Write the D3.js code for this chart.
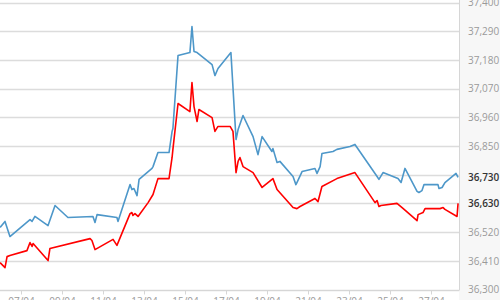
<!DOCTYPE html>
<html>
<head>
<meta charset="utf-8">
<script src="https://cdn.jsdelivr.net/npm/d3@7"></script>
<style>
  body { margin: 0; background: #fff; }
  text { font-family: "Open Sans", sans-serif; }
</style>
</head>
<body>
<div id="chart"></div>
<script>
var svgWidth = 500;
var svgHeight = 300;

// time is April day + fraction of day
var blueDays = [5.98, 6.22, 6.46, 7.44, 7.54, 7.68, 8.32, 8.66, 9.29, 10.51, 10.61, 10.71, 11.68, 11.73,
  12.32, 12.41, 12.51, 12.66, 12.76, 13.39, 13.44, 13.68, 14.22, 14.37, 14.41, 14.66, 15.24, 15.34,
  15.44, 15.59, 16.32, 16.46, 16.61, 17.24, 17.49, 17.59, 17.83, 18.32, 18.56, 18.76, 19.24, 19.29,
  19.49, 19.63, 20.27, 20.41, 20.46, 20.71, 21.34, 21.44, 21.59, 21.68, 22.22, 22.41, 23.05, 23.29,
  24.37, 24.46, 24.66, 25.39, 25.54, 25.73, 26.32, 26.41, 26.56, 26.66, 27.34, 27.39, 27.54, 27.68,
  28.22, 28.32];
var blueValues = [36538, 36561, 36503, 36568, 36561, 36580, 36545, 36622, 36576, 36580, 36557, 36587, 36576, 36561,
  36702, 36683, 36687, 36660, 36722, 36764, 36771, 36825, 36825, 36906, 36917, 37197, 37208, 37308,
  37212, 37208, 37162, 37120, 37147, 37208, 36875, 36913, 36967, 36886, 36817, 36886, 36829, 36840,
  36787, 36791, 36733, 36702, 36710, 36752, 36764, 36745, 36771, 36821, 36829, 36837, 36848, 36856,
  36733, 36722, 36748, 36725, 36710, 36764, 36676, 36672, 36679, 36702, 36702, 36687, 36691, 36710,
  36745, 36730];

var redDays = [5.98, 6.22, 6.32, 6.46, 7.29, 7.44, 7.54, 7.59, 8.32, 8.41, 10.37, 10.46, 10.61, 11.49,
  11.68, 12.32, 12.41, 12.46, 12.56, 12.71, 13.20, 13.44, 13.68, 14.22, 14.37, 14.41, 14.66, 15.24,
  15.34, 15.44, 15.59, 15.68, 16.32, 16.46, 16.61, 17.20, 17.34, 17.49, 17.59, 17.68, 17.83, 18.32,
  18.76, 19.29, 19.49, 20.27, 20.46, 20.61, 21.34, 21.49, 21.68, 22.41, 23.29, 24.27, 24.37, 24.46,
  24.56, 25.34, 25.59, 26.32, 26.37, 26.61, 26.71, 27.44, 27.59, 27.68, 28.27, 28.32];
var redValues = [36403, 36384, 36426, 36430, 36449, 36480, 36465, 36476, 36411, 36457, 36495, 36488, 36453, 36492,
  36469, 36591, 36595, 36584, 36591, 36580, 36633, 36664, 36725, 36725, 36806, 36837, 37013, 36982,
  37093, 37001, 36944, 36990, 36959, 36906, 36925, 36925, 36906, 36748, 36791, 36806, 36771, 36748,
  36691, 36725, 36683, 36614, 36610, 36618, 36649, 36637, 36695, 36725, 36748, 36633, 36641, 36618,
  36622, 36630, 36614, 36564, 36587, 36595, 36610, 36610, 36614, 36607, 36580, 36630];

var yTicks = [36300, 36410, 36520, 36630, 36740, 36850, 36960, 37070, 37180, 37290, 37400];
var xTickDays = [7, 9, 11, 13, 15, 17, 19, 21, 23, 25, 27];

var plotRight = 459;
var plotTop = 2.5;
var plotBottom = 289.5;

function dayToDate(d) {
  return new Date(2014, 3, 1, 0, 0, 0, 0).getTime() + (d - 1) * 86400000;
}

var svg = d3.select("#chart")
  .append("svg")
  .attr("width", svgWidth)
  .attr("height", svgHeight);

// gray panel for the value labels
svg.append("rect")
  .attr("x", plotRight)
  .attr("y", 0)
  .attr("width", svgWidth - plotRight)
  .attr("height", svgHeight)
  .attr("fill", "#f7f7f7");

var xScale = d3.scaleTime()
  .domain([dayToDate(7 - 21 / 20.5), dayToDate(7 + (plotRight - 21) / 20.5)])
  .range([0, plotRight]);

var yScale = d3.scaleLinear()
  .domain([36300, 37400])
  .range([plotBottom, plotTop]);

// gridlines
svg.append("g")
  .selectAll("line")
  .data(yTicks)
  .enter()
  .append("line")
  .attr("x1", 0)
  .attr("x2", plotRight)
  .attr("y1", d => Math.round(yScale(d)) + 0.5)
  .attr("y2", d => Math.round(yScale(d)) + 0.5)
  .attr("stroke", "#dcdcdc")
  .attr("stroke-width", 1.3);

// right border of plot
svg.append("line")
  .attr("x1", plotRight + 0.5)
  .attr("x2", plotRight + 0.5)
  .attr("y1", 0)
  .attr("y2", plotBottom + 1)
  .attr("stroke", "#d6d6d6");

// x axis
var xAxis = d3.axisBottom(xScale)
  .tickValues(xTickDays.map(d => new Date(dayToDate(d))))
  .tickFormat(d3.timeFormat("%d/%m"))
  .tickSize(4)
  .tickPadding(3);

var xAxisG = svg.append("g")
  .attr("transform", `translate(0, ${Math.round(plotBottom) + 0.5})`)
  .call(xAxis);
xAxisG.select(".domain").attr("stroke", "#d6d6d6").attr("d", `M0,0H${plotRight}`);
xAxisG.selectAll(".tick line").attr("stroke", "#d6d6d6");
xAxisG.selectAll(".tick text")
  .attr("fill", "#9a9a9a")
  .attr("font-size", 10)
  .attr("font-family", "Open Sans, sans-serif");

// y labels on the right
var yAxis = d3.axisRight(yScale)
  .tickValues(yTicks)
  .tickFormat(d3.format(","))
  .tickSize(0)
  .tickPadding(9);

var yAxisG = svg.append("g")
  .attr("transform", `translate(${plotRight}, 0)`)
  .call(yAxis);
yAxisG.select(".domain").remove();
yAxisG.selectAll(".tick text")
  .attr("fill", "#9a9a9a")
  .attr("font-size", 10)
  .attr("font-family", "Open Sans, sans-serif")
  .style("display", d => (d === 36740 || d === 36630) ? "none" : null);

var line = d3.line()
  .x(d => xScale(dayToDate(d[0])))
  .y(d => yScale(d[1]));

var blueData = blueDays.map((d, i) => [d, blueValues[i]]);
var redData = redDays.map((d, i) => [d, redValues[i]]);

svg.append("path")
  .datum(blueData)
  .attr("d", line)
  .attr("fill", "none")
  .attr("stroke", "#4d97c9")
  .attr("stroke-width", 1.6)
  .attr("stroke-linejoin", "round");

svg.append("path")
  .datum(redData)
  .attr("d", line)
  .attr("fill", "none")
  .attr("stroke", "#ff0000")
  .attr("stroke-width", 1.6)
  .attr("stroke-linejoin", "round");

// last value labels
var lastLabels = [blueValues[blueValues.length - 1], redValues[redValues.length - 1]];
svg.append("g")
  .selectAll("text")
  .data(lastLabels)
  .enter()
  .append("text")
  .attr("x", plotRight + 9)
  .attr("y", d => yScale(d))
  .attr("dy", "0.32em")
  .attr("fill", "#333")
  .attr("font-size", 10)
  .attr("font-weight", 600)
  .text(d => d3.format(",")(d));
</script>
</body>
</html>
